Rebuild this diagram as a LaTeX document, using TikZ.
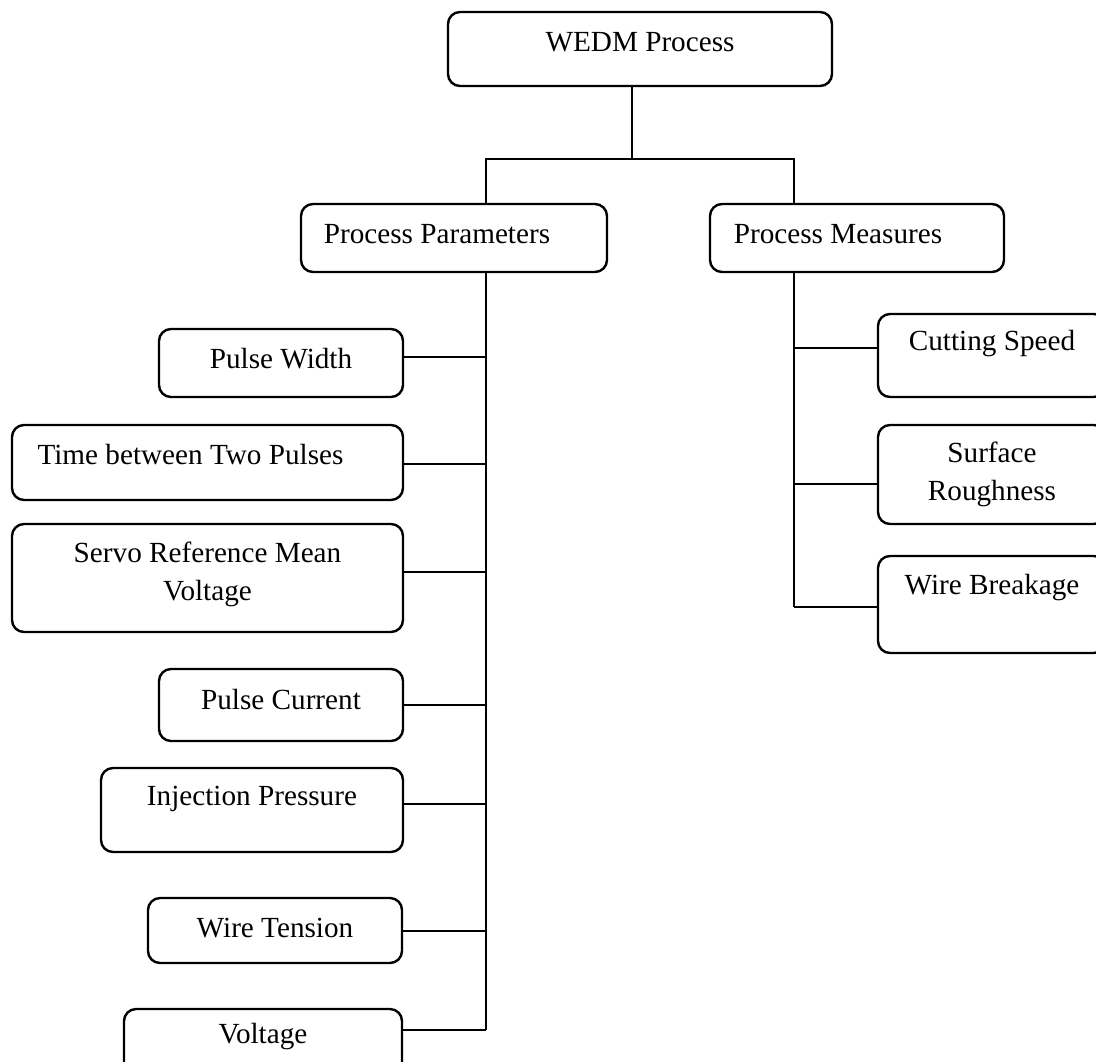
\documentclass[tikz,border=0pt]{standalone}
\usepackage{fontspec}
\setmainfont{Liberation Serif}
\usetikzlibrary{calc}
\usetikzlibrary{positioning}

\begin{document}
\begin{tikzpicture}[x=0.5pt, y=-0.5pt, line width=1pt]
\tikzset{blk/.style 2 args={draw,rounded corners=6pt,line width=1.2pt,inner sep=0,minimum width=#1*0.5pt,minimum height=#2*0.5pt}}
\tikzset{lbl/.style={font=\fontsize{14.6}{19}\selectfont,align=center,inner sep=0}}

% page - white, size of the original
\path[use as bounding box, fill=white] (0,0) rectangle (1096,1061);

% top and second level
\node[blk={384}{74}] (wedm) at (640,49) {};
\node[blk={306}{68}] (pp) at (454,238) {};
\node[blk={294}{68}] (pm) at (857,238) {};

% parameters - left column
\node[blk={244}{68}] (pw) at (281,363) {};
\node[blk={391}{75}] (tbp) at (207.5,462.5) {};
\node[blk={391}{108}] (srmv) at (207.5,578) {};
\node[blk={244}{72}] (pc) at (281,705) {};
\node[blk={302}{84}] (ip) at (252,810) {};
\node[blk={254}{65}] (wt) at (275,930.5) {};
\node[blk={278}{100}] (volt) at (263,1059) {};

% measures - right column
\node[blk={228}{83}] (cs) at (992,355.5) {};
\node[blk={228}{99}] (sr) at (992,474.5) {};
\node[blk={228}{97}] (wb) at (992,604.5) {};

% texts
\node[lbl] (wedm-t) at ($(wedm.north)+(0,31)$) {WEDM Process};
\node[lbl] (pp-t) at ($(pp.north)+(-17,31)$) {Process Parameters};
\node[lbl] (pm-t) at ($(pm.north)+(-19,31)$) {Process Measures};
\node[lbl] (pw-t) at ($(pw.north)+(0,31)$) {Pulse Width};
\node[lbl] (tbp-t) at ($(tbp.north)+(-17,31)$) {Time between Two Pulses};
\node[lbl] (srmv-t) at ($(srmv.north)+(0,52)$) {Servo Reference Mean\\Voltage};
\node[lbl] (pc-t) at ($(pc.north)+(0,32)$) {Pulse Current};
\node[lbl] (ip-t) at ($(ip.north)+(0,32)$) {Injection Pressure};
\node[lbl] (wt-t) at ($(wt.north)+(0,31)$) {Wire Tension};
\node[lbl] (volt-t) at ($(volt.north)+(0,29)$) {Voltage};
\node[lbl] (cs-t) at ($(cs.north)+(0,31)$) {Cutting Speed};
\node[lbl] (sr-t) at ($(sr.north)+(0,51)$) {Surface\\Roughness};
\node[lbl] (wb-t) at ($(wb.north)+(0,33)$) {Wire Breakage};

% tree lines
\coordinate (fork) at (632,159);
\coordinate (lt) at (486,159);
\coordinate (rt) at (794,159);
\draw (wedm.south -| fork) -- (fork);
\draw (pp.north -| lt) -- (lt) -- (rt) -- (pm.north -| rt);

\draw (pp.south -| lt) -- ($(volt.east -| lt)+(0,-29)$);
\foreach \n/\d in {pw/-6,tbp/1.5,srmv/-6,pc/0,ip/-6,wt/0,volt/-29}
  \draw ($(\n.east)+(0,\d)$) -- ($(\n.east -| lt)+(0,\d)$);

\draw (pm.south -| rt) -- ($(wb.west -| rt)+(0,2.5)$);
\foreach \n/\d in {cs/-7.5,sr/9.5,wb/2.5}
  \draw ($(\n.west)+(0,\d)$) -- ($(\n.west -| rt)+(0,\d)$);

\end{tikzpicture}
\end{document}
